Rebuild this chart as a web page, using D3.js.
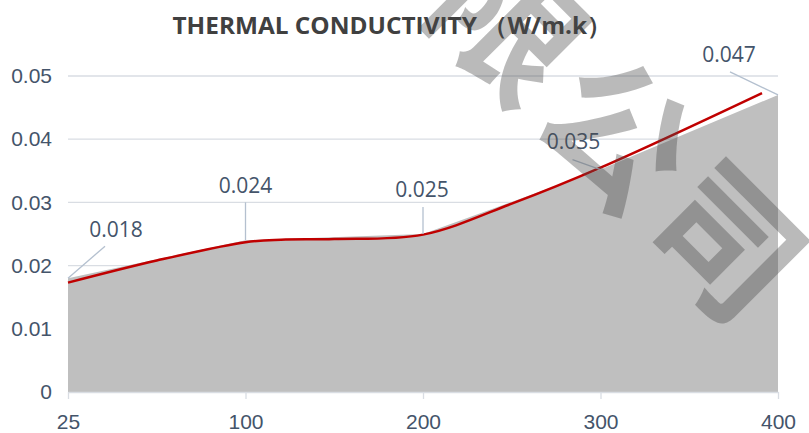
<!DOCTYPE html>
<html>
<head>
<meta charset="utf-8">
<script src="https://cdn.jsdelivr.net/npm/d3@7"></script>
<style>
  body { margin: 0; background: #fff; }
  svg { display: block; font-family: "Open Sans", "Liberation Sans", sans-serif; }
</style>
</head>
<body>
<div id="chart"></div>
<script>
// data
var temps = ["25", "100", "200", "300", "400"]
var conductivity = [0.018, 0.024, 0.025, 0.0352, 0.047]
var labels = ["0.018", "0.024", "0.025", "0.035", "0.047"]
// red fitted curve, x given as category index
var curveIdx = [0, 0.5, 1, 1.2, 1.5, 2, 2.5, 3, 3.91]
var curveVal = [0.0173, 0.0208, 0.0237, 0.0241, 0.0242, 0.0249, 0.0298, 0.0355, 0.0473]
var yTicks = [0, 0.01, 0.02, 0.03, 0.04, 0.05]
var watermark = ["限", "公", "司"]

var W = 809, H = 433
var margin = { left: 68, right: 31, top: 76, bottom: 41 }
var width = W - margin.left - margin.right
var height = H - margin.top - margin.bottom

var svg = d3.select("#chart").append("svg")
    .attr("width", W)
    .attr("height", H)

var g = svg.append("g")
    .attr("transform", "translate(" + margin.left + "," + margin.top + ")")

var x = d3.scalePoint().domain(temps).range([0, width])
var xi = d3.scaleLinear().domain([0, temps.length - 1]).range([0, width])
var y = d3.scaleLinear().domain([0, 0.05]).range([height, 0])

// gridlines
g.selectAll(".grid")
    .data(yTicks.slice(1))
    .join("line")
        .attr("class", "grid")
        .attr("x1", 0).attr("x2", width)
        .attr("y1", d => y(d)).attr("y2", d => y(d))
        .attr("stroke", "#d9dde3")
        .attr("stroke-width", 1.3)

// area
var area = d3.area()
    .x((d, i) => x(temps[i]))
    .y0(y(0))
    .y1(d => y(d))
g.append("path")
    .datum(conductivity)
    .attr("d", area)
    .attr("fill", "#bfbfbf")

// red curve
var line = d3.line()
    .x(d => xi(d[0]))
    .y(d => y(d[1]))
    .curve(d3.curveCatmullRom.alpha(0.5))
g.append("path")
    .datum(curveIdx.map((v, i) => [v, curveVal[i]]))
    .attr("d", line)
    .attr("fill", "none")
    .attr("stroke", "#c00000")
    .attr("stroke-width", 2.5)

// x axis
var xAxis = g.append("g")
    .attr("transform", "translate(0," + height + ")")
    .call(d3.axisBottom(x).tickSize(7).tickSizeOuter(0).tickPadding(15))
xAxis.select(".domain").attr("stroke", "#d9dde3").attr("stroke-width", 1.3)
xAxis.selectAll(".tick line").attr("stroke", "#d9dde3").attr("stroke-width", 1.3)
xAxis.selectAll(".tick text")
    .attr("fill", "#44546a")
    .style("font-size", "21px")

// y axis
var yAxis = g.append("g")
    .call(d3.axisLeft(y).tickValues(yTicks).tickSize(0).tickPadding(16)
        .tickFormat(d => d === 0 ? "0" : d3.format(".2f")(d)))
yAxis.select(".domain").remove()
yAxis.selectAll(".tick text")
    .attr("fill", "#44546a")
    .style("font-size", "21px")

// data labels with leader lines (offsets from point)
var labelOff = [[48, -49], [0, -55], [-1, -44], [-27, -28], [-49, -40]]
var leaderEnd = [[37, -32], [0, -38], [0, -27], [-28, -10], [-48, -23]]
var dl = g.selectAll(".dl")
    .data(conductivity)
    .join("g")
        .attr("class", "dl")
        .attr("transform", (d, i) => "translate(" + x(temps[i]) + "," + y(d) + ")")
dl.append("line")
    .attr("x1", 0).attr("y1", 0)
    .attr("x2", (d, i) => leaderEnd[i][0])
    .attr("y2", (d, i) => leaderEnd[i][1])
    .attr("stroke", "#b4c0cf")
    .attr("stroke-width", 1.3)
dl.append("text")
    .attr("x", (d, i) => labelOff[i][0])
    .attr("y", (d, i) => labelOff[i][1])
    .attr("text-anchor", "middle")
    .attr("dy", "0.35em")
    .attr("fill", "#44546a")
    .style("font-size", "21px")
    .text((d, i) => labels[i])

// title
svg.append("text")
    .attr("x", 392)
    .attr("y", 34)
    .attr("text-anchor", "middle")
    .attr("fill", "#404040")
    .attr("textLength", 439)
    .attr("lengthAdjust", "spacingAndGlyphs")
    .style("font-size", "24px")
    .style("font-weight", "bold")
    .text("THERMAL CONDUCTIVITY （W/m.k）")

// watermark
var wm = svg.append("g")
    .attr("transform", "translate(515,18) rotate(45)")
wm.selectAll("text")
    .data(watermark)
    .join("text")
        .attr("x", (d, i) => i * 154)
        .attr("y", 0)
        .attr("text-anchor", "middle")
        .attr("dominant-baseline", "central")
        .attr("fill", "#4a4a4a")
        .attr("fill-opacity", 0.38)
        .style("font-family", "'Noto Sans CJK SC'")
        .style("font-weight", "bold")
        .style("font-size", "145px")
        .text(d => d)
</script>
</body>
</html>
